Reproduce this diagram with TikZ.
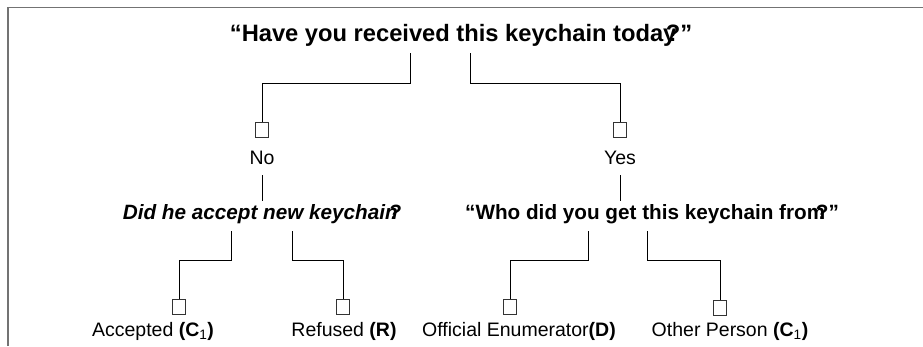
\documentclass[tikz,border=0pt]{standalone}
\usepackage{fontspec}
\setmainfont{Liberation Sans}
% question mark set tight against the preceding letter
\newcommand{\tq}{\kern-0.45em?}
\newcommand{\subone}{\textsubscript{\normalfont 1}}
\begin{document}
\begin{tikzpicture}[x=1pt,y=-1pt,
  frame/.style={draw=black!55, line width=1.6pt},
  link/.style={draw=black, line width=0.9pt},
  tick/.style={draw=black!80, line width=0.9pt, minimum width=13pt,
    minimum height=15pt, inner sep=0pt, anchor=north},
  lbl/.style={inner sep=0pt, font=\fontsize{19.5}{22}\selectfont},
  ques/.style={inner sep=0pt, font=\fontsize{20.7}{23}\selectfont\bfseries},
]
\useasboundingbox (0,0) rectangle (923,346);
\draw[frame] (8,346) -- (8,7.5) -- (923,7.5);

% first question
\node[ques, font=\fontsize{23.7}{26}\selectfont\bfseries] (t) at (461,35)
  {“Have you received this keychain today\tq”};
\coordinate (tl) at (410.5,53);
\coordinate (tr) at (470.5,53);
\node[tick] (bno) at (262,122) {};
\node[tick] (byes) at (620,122) {};
\draw[link] (tl) -- ++(0,30) -| (bno.north);
\draw[link] (tr) -- ++(0,30) -| (byes.north);
\node[lbl] (no) at (262,158) {No};
\node[lbl] (yes) at (620,158) {Yes};

% follow-up questions
\node[ques, font=\fontsize{20.7}{23}\selectfont\bfseries\itshape] (qa) at (262,214)
  {Did he accept new keychain\tq};
\node[ques] (qb) at (652,214)
  {“Who did you get this keychain from\tq "};
\coordinate (noa) at (262,175);
\coordinate (nob) at (262,201);
\coordinate (yesa) at (620,175);
\coordinate (yesb) at (620,201);
\draw[link] (noa) -- (nob);
\draw[link] (yesa) -- (yesb);

% answers
\node[tick] (bacc) at (179,299) {};
\node[tick] (bref) at (343,299) {};
\node[tick] (benu) at (510,299) {};
\node[tick] (both) at (720,300) {};
\coordinate (qal) at (231,231);
\coordinate (qar) at (292,231);
\coordinate (qbl) at (588,231);
\coordinate (qbr) at (647,231);
\draw[link] (qal) -- ++(0,29) -| (bacc.north);
\draw[link] (qar) -- ++(0,29) -| (bref.north);
\draw[link] (qbl) -- ++(0,29) -| (benu.north);
\draw[link] (qbr) -- ++(0,29) -| (both.north);

\node[lbl] (lacc) at (153,331) {Accepted \textbf{(C\subone)}};
\node[lbl] (lref) at (344,331) {Refused \textbf{(R)}};
\node[lbl] (lenu) at (519,331) {Official Enumerator\textbf{(D)}};
\node[lbl] (loth) at (730,331) {Other Person \textbf{(C\subone)}};
\end{tikzpicture}
\end{document}
